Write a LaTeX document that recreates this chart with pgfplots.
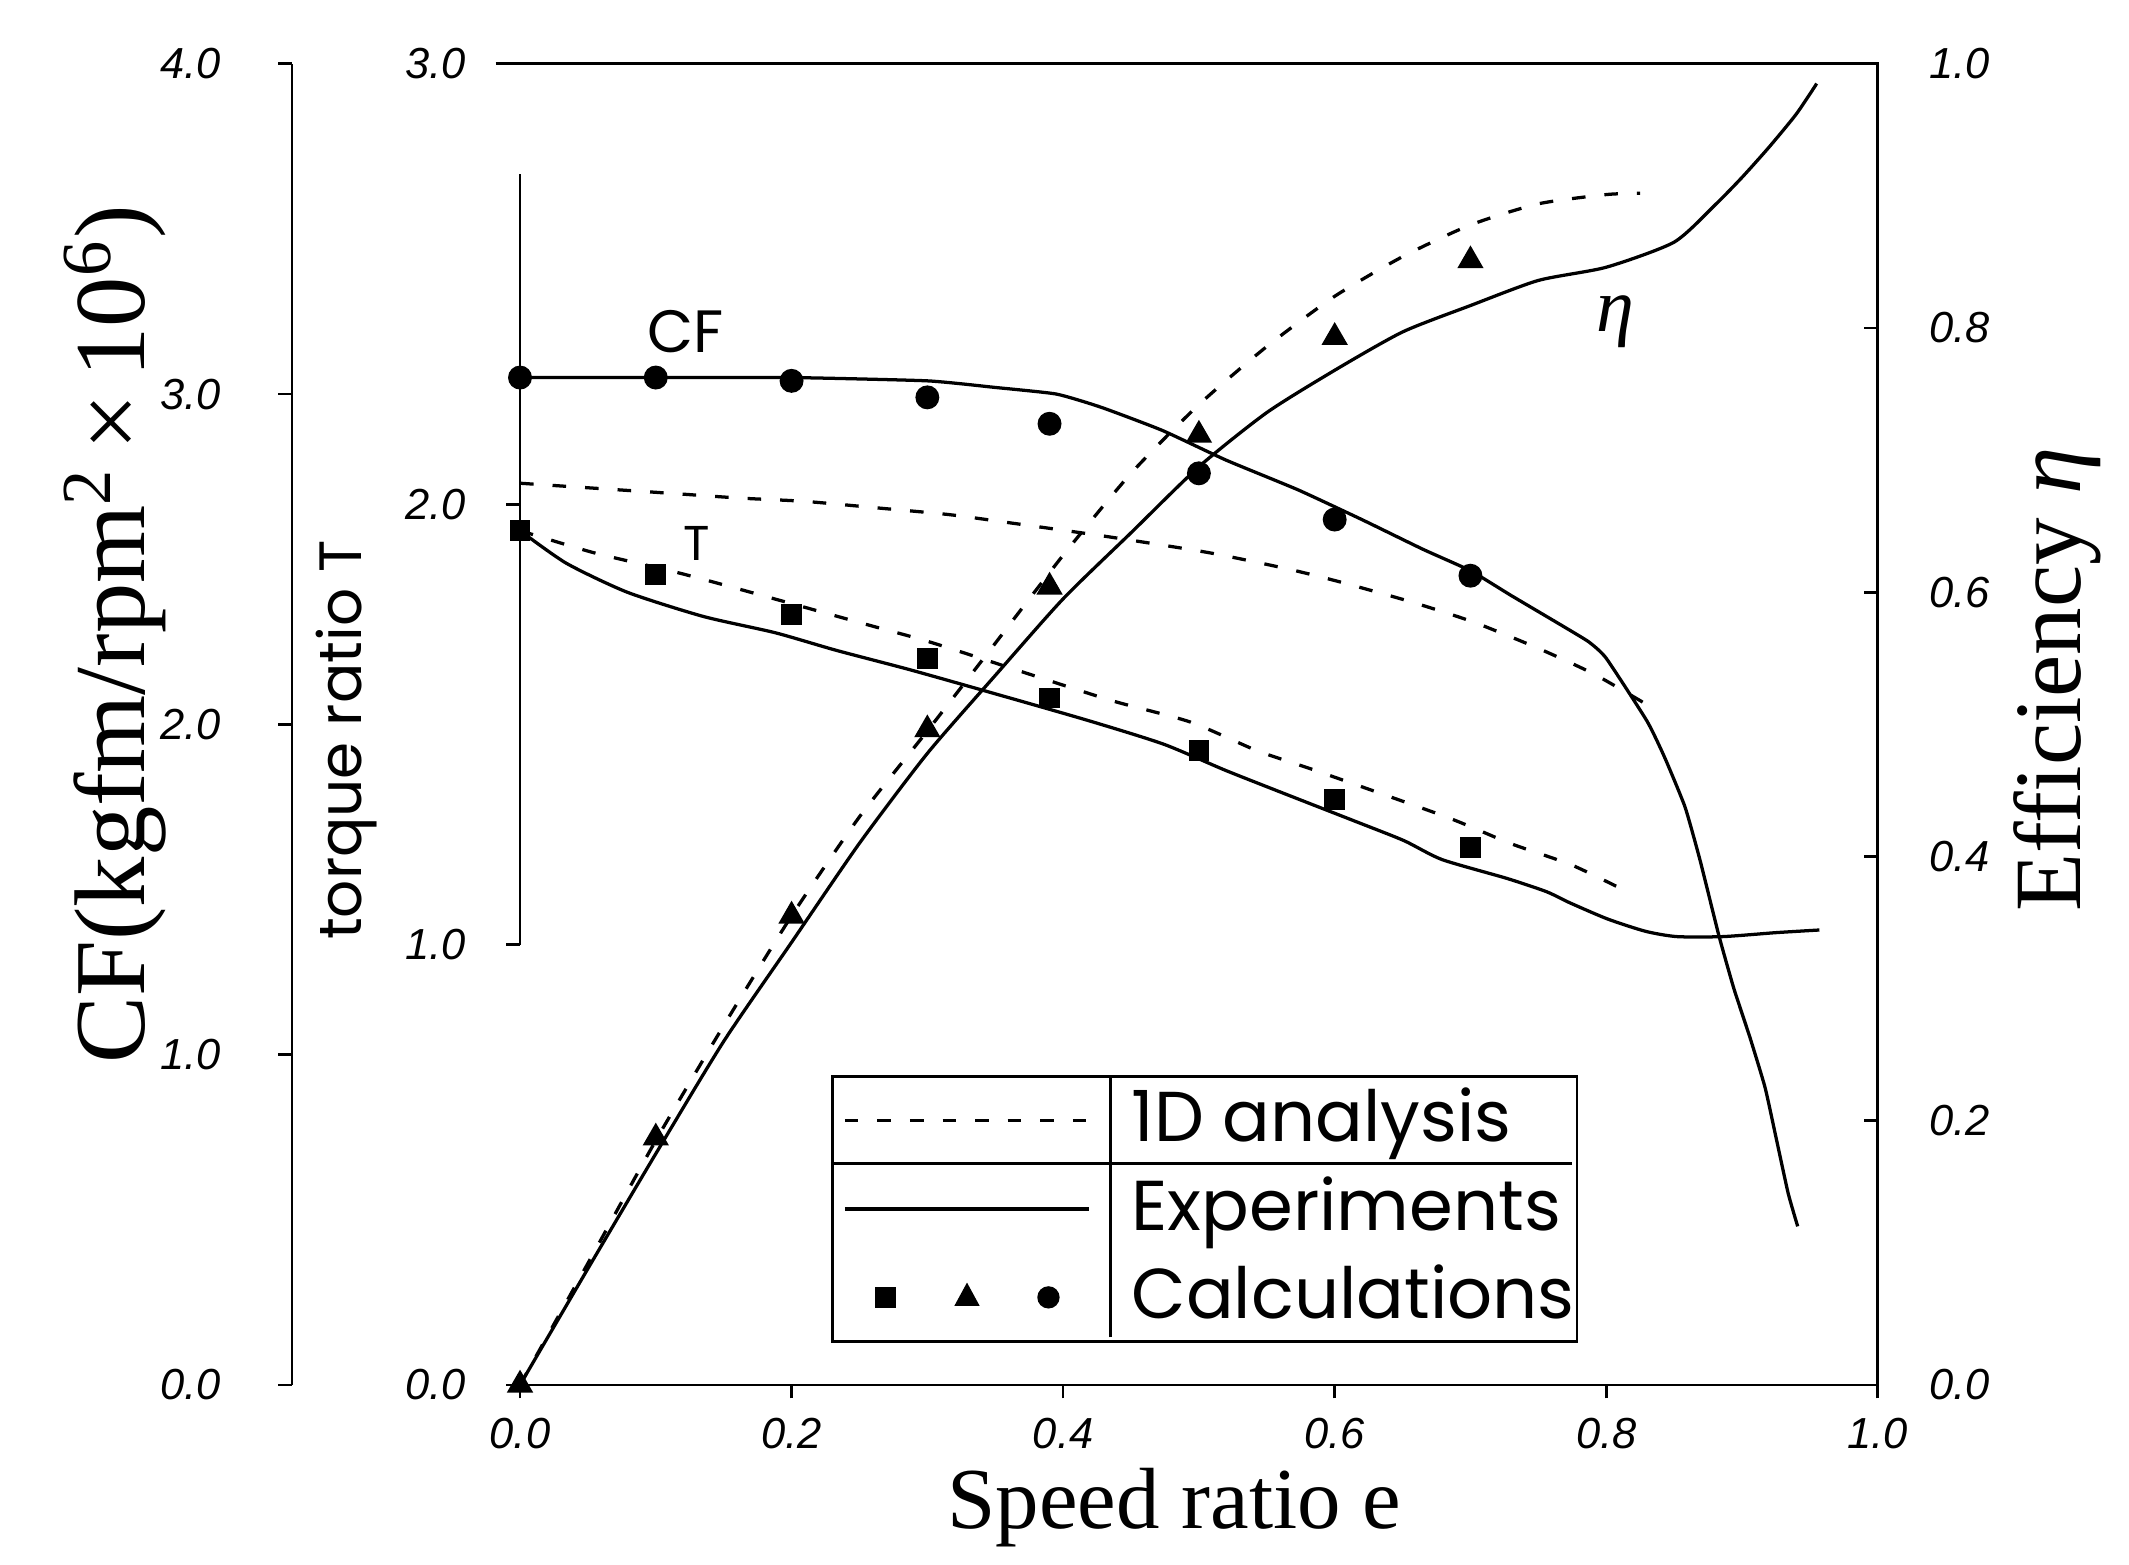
\documentclass[border=0pt]{standalone}
\usepackage{pgfplots}
\pgfplotsset{compat=1.18}
\usepackage{fontspec}
\setmainfont{Liberation Serif}
\newfontfamily\popfont{Poppins}
\newfontfamily\tickfont{Liberation Sans}
\begin{document}
\begin{tikzpicture}
\useasboundingbox (-95.75pt,-33pt) rectangle (296.25pt,255pt);
\pgfplotsset{
  base/.style={
    scale only axis, width=250pt, height=243.25pt,
    xmin=0, xmax=1, clip=false,
    tick align=outside, major tick length=2.5pt,
    every tick/.append style={black, line width=0.5pt},
    tick label style={font=\tickfont\itshape\fontsize{8}{9}\selectfont},
  },
  expline/.style={black, line width=0.6pt, mark=none, smooth, tension=0.4},
  analine/.style={black, line width=0.6pt, mark=none, smooth, tension=0.4, dash pattern=on 2.5pt off 3.5pt},
}
% ---------------- CF axis ----------------
\begin{axis}[base, ymin=0, ymax=4,
  hide x axis, axis y line*=left, axis y line shift=42pt,
  y axis line style={line width=0.5pt},
  ytick={0,1,2,3,4}, yticklabels={0.0,1.0,2.0,3.0,4.0},
  yticklabel style={xshift=-7pt},
  ylabel={CF(kgfm/rpm\textsuperscript{2}\,×\,10\textsuperscript{6})},
  every axis y label/.style={at={(axis description cs:-0.298,0.568)}, anchor=center, rotate=90, font=\fontsize{18.5}{21}\selectfont},
]
% Experiments
\addplot[expline, tension=0.3] coordinates {
(0,3.05) (0.1,3.05) (0.2,3.05) (0.3,3.04) (0.35,3.02) (0.395,3.0) (0.428,2.96)
(0.473,2.89) (0.52,2.80) (0.573,2.71) (0.62,2.62) (0.665,2.53) (0.7,2.465)
(0.73,2.39) (0.767,2.30) (0.787,2.25) (0.80,2.20) (0.83,2.01) (0.843,1.90)
(0.858,1.75) (0.869,1.59) (0.883,1.36) (0.894,1.20) (0.906,1.05) (0.917,0.90)
(0.925,0.75) (0.934,0.58) (0.941,0.48)};
% 1D analysis
\addplot[analine] coordinates {
(0,2.73) (0.109,2.70) (0.162,2.685) (0.21,2.675) (0.264,2.655) (0.316,2.635)
(0.361,2.61) (0.43,2.57) (0.507,2.52) (0.566,2.47) (0.605,2.43) (0.657,2.37)
(0.702,2.31) (0.75,2.23) (0.792,2.15) (0.838,2.04)};
% Calculations
\addplot[only marks, mark=*, mark size=2pt, black] coordinates {
(0,3.05) (0.1,3.05) (0.2,3.04) (0.3,2.99) (0.39,2.91) (0.5,2.76) (0.6,2.62) (0.7,2.45)};
\node[font=\popfont\fontsize{11}{13}\selectfont] at (axis cs:0.122,3.19) {CF};
\end{axis}
% ---------------- Efficiency axis ----------------
\begin{axis}[base, ymin=0, ymax=1,
  hide x axis, axis y line*=right,
  y axis line style={draw=none}, tick align=inside,
  ytick={0,0.2,0.4,0.6,0.8,1}, yticklabels={0.0,0.2,0.4,0.6,0.8,1.0},
  yticklabel style={xshift=6pt},
  ylabel={Efficiency \textit{η}},
  every axis y label/.style={at={(axis description cs:1.132,0.534)}, anchor=center, rotate=90, font=\fontsize{17.5}{20}\selectfont},
]
\addplot[expline] coordinates {
(0,0) (0.05,0.088) (0.1,0.175) (0.15,0.26) (0.2,0.335) (0.25,0.41) (0.3,0.478)
(0.35,0.537) (0.4,0.595) (0.45,0.645) (0.5,0.695) (0.55,0.736) (0.6,0.768)
(0.65,0.797) (0.7,0.817) (0.75,0.836) (0.8,0.846) (0.85,0.865) (0.88,0.893)
(0.9,0.914) (0.92,0.937) (0.94,0.962) (0.955,0.985)};
\addplot[analine] coordinates {
(0,0) (0.05,0.092) (0.1,0.185) (0.15,0.272) (0.2,0.355) (0.25,0.43) (0.3,0.495)
(0.346,0.556) (0.4,0.628) (0.45,0.69) (0.5,0.742) (0.55,0.786) (0.6,0.824)
(0.65,0.854) (0.7,0.878) (0.75,0.894) (0.8,0.901) (0.825,0.902)};
\addplot[only marks, mark=triangle*, mark size=2.4pt, black] coordinates {
(0,0) (0.1,0.187) (0.2,0.355) (0.3,0.496) (0.39,0.604) (0.5,0.719) (0.6,0.793) (0.7,0.851)};
\node[font=\fontsize{14}{16}\selectfont\itshape] at (axis cs:0.807,0.805) {η};
\end{axis}
% ---------------- Main (torque ratio) axis ----------------
\begin{axis}[base, ymin=0, ymax=3,
  axis line style={draw=none},
  xtick={0,0.2,0.4,0.6,0.8,1}, xticklabels={0.0,0.2,0.4,0.6,0.8,1.0},
  ytick={0,1,2,3}, yticklabels={0.0,1.0,2.0,3.0},
  xtick pos=left, ytick pos=left,
  yticklabel style={xshift=-4pt},
  xlabel={Speed ratio e}, ylabel={torque ratio T},
  every axis x label/.style={at={(axis description cs:0.482,-0.0925)}, anchor=center, font=\fontsize{16}{18}\selectfont},
  every axis y label/.style={at={(axis description cs:-0.128,0.488)}, anchor=center, rotate=90, font=\popfont\fontsize{11}{13}\selectfont},
  legend style={at={(axis description cs:0.229,0.2343)}, anchor=north west,
    draw=black, fill=none, line width=0.5pt, inner xsep=2pt, inner ysep=0pt, row sep=0pt,
    font=\popfont\fontsize{13}{15}\selectfont,
    nodes={inner sep=0pt, text height=12pt, text depth=4.25pt},
    /tikz/every odd column/.append style={column sep=7.5pt}},
  legend cell align=left,
]
\draw[line width=0.5pt] (axis cs:-0.018,3) -- (axis cs:1,3) -- (axis cs:1,0) -- (axis cs:0,0);
\draw[line width=0.5pt] (axis cs:0,1) -- (axis cs:0,2.75);
\addplot[expline, forget plot] coordinates {
(0,1.94) (0.034,1.866) (0.079,1.80) (0.135,1.745) (0.188,1.708) (0.233,1.668)
(0.286,1.625) (0.339,1.579) (0.417,1.51) (0.474,1.455) (0.52,1.395) (0.571,1.333)
(0.615,1.28) (0.651,1.236) (0.679,1.193) (0.727,1.15) (0.756,1.12) (0.773,1.095)
(0.801,1.058) (0.829,1.03) (0.852,1.018) (0.886,1.018) (0.925,1.027) (0.957,1.033)};
\addplot[analine, forget plot] coordinates {
(0,1.94) (0.054,1.89) (0.113,1.847) (0.158,1.81) (0.255,1.727) (0.305,1.684)
(0.401,1.588) (0.439,1.551) (0.494,1.505) (0.543,1.44) (0.587,1.394) (0.682,1.29)
(0.729,1.23) (0.775,1.18) (0.818,1.116)};
\addplot[only marks, mark=square*, mark size=1.7pt, black, forget plot] coordinates {
(0,1.94) (0.1,1.84) (0.2,1.75) (0.3,1.65) (0.39,1.56) (0.5,1.44) (0.6,1.33) (0.7,1.22)};
\node[font=\popfont\fontsize{9}{11}\selectfont] at (axis cs:0.13,1.91) {T};
% legend
\addlegendimage{legend image code/.code={\draw[black, line width=0.6pt, dash pattern=on 2.5pt off 3.5pt] (0pt,0pt) -- (45pt,0pt);}}
\addlegendentry{\makebox[80pt][l]{1D analysis}}
\addlegendimage{legend image code/.code={\draw[black, line width=0.6pt] (0pt,0pt) -- (45pt,0pt);}}
\addlegendentry{\makebox[80pt][l]{Experiments}}
\addlegendimage{legend image code/.code={
  \fill[black] (7.5pt,0pt) ++(-1.7pt,-1.7pt) rectangle ++(3.4pt,3.4pt);
  \fill[black] (22.5pt,2.2pt) -- (20.6pt,-1.3pt) -- (24.4pt,-1.3pt) -- cycle;
  \fill[black] (37.5pt,0pt) circle (1.8pt);}}
\addlegendentry{\makebox[80pt][l]{Calculations}}
\draw[line width=0.5pt] (axis description cs:0.229,0.1675) -- (axis description cs:0.775,0.1675);
\draw[line width=0.5pt] (axis description cs:0.435,0.036) -- (axis description cs:0.435,0.2343);
\end{axis}
\end{tikzpicture}
\end{document}
